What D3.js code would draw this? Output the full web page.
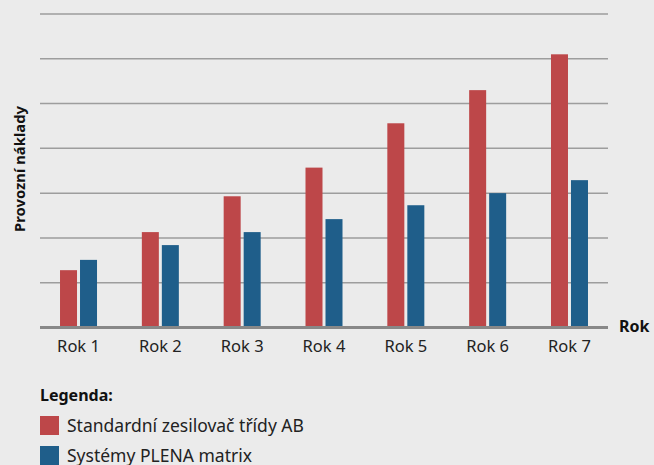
<!DOCTYPE html>
<html>
<head>
<meta charset="utf-8">
<script src="https://cdn.jsdelivr.net/npm/d3@7"></script>
<style>
  body { margin: 0; background: #ebebeb; }
  svg { display: block; font-family: "Noto Sans", "Open Sans", sans-serif; }
</style>
</head>
<body>
<svg id="chart" width="654" height="465"></svg>
<script>
const years = ["Rok 1", "Rok 2", "Rok 3", "Rok 4", "Rok 5", "Rok 6", "Rok 7"];
const standardAB = [1.28, 2.13, 2.93, 3.57, 4.56, 5.30, 6.10];
const plenaMatrix = [1.51, 1.84, 2.13, 2.42, 2.73, 3.00, 3.29];
const seriesNames = ["Standardní zesilovač třídy AB", "Systémy PLENA matrix"];
const colors = ["#bd4749", "#1f5e8a"];

const svg = d3.select("#chart");
const gridLeft = 40, gridRight = 608;
const plotTop = 14, plotBottom = 327.5;

const x = d3.scaleBand().domain(years).range([37.6, 610.4]);
const y = d3.scaleLinear().domain([0, 7]).range([plotBottom, plotTop]);
const barW = 17, gap = 3;

// gridlines
svg.append("g").selectAll("line")
  .data(d3.range(1, 8))
  .join("line")
    .attr("x1", gridLeft).attr("x2", gridRight)
    .attr("y1", d => y(d)).attr("y2", d => y(d))
    .attr("stroke", "#9d9d9d")
    .attr("stroke-width", 1.5);

const groups = svg.append("g").selectAll("g")
  .data(years)
  .join("g")
    .attr("transform", d => `translate(${x(d) + x.bandwidth() / 2},0)`);

groups.append("rect")
  .attr("x", -barW - gap / 2)
  .attr("y", (d, i) => y(standardAB[i]))
  .attr("width", barW)
  .attr("height", (d, i) => plotBottom - y(standardAB[i]))
  .attr("fill", colors[0]);

groups.append("rect")
  .attr("x", gap / 2)
  .attr("y", (d, i) => y(plenaMatrix[i]))
  .attr("width", barW)
  .attr("height", (d, i) => plotBottom - y(plenaMatrix[i]))
  .attr("fill", colors[1]);

// baseline
svg.append("line")
  .attr("x1", gridLeft).attr("x2", gridRight)
  .attr("y1", plotBottom).attr("y2", plotBottom)
  .attr("stroke", "#888").attr("stroke-width", 3);

// x labels
const xAxis = svg.append("g")
  .attr("transform", `translate(0,${plotBottom})`)
  .call(d3.axisBottom(x).tickSize(0).tickPadding(8));
xAxis.select(".domain").remove();
xAxis.attr("font-family", null).attr("font-size", null);
xAxis.selectAll("text")
  .style("font-size", "16.5px")
  .attr("dy", null)
  .attr("y", 24)
  .attr("fill", "#222");

svg.append("text")
  .attr("x", 619).attr("y", 332)
  .style("font-size", "16px").attr("font-weight", "bold").attr("fill", "#111")
  .text("Rok");

svg.append("text")
  .attr("transform", "rotate(-90)")
  .attr("x", -169).attr("y", 25)
  .attr("text-anchor", "middle")
  .style("font-size", "14.8px").attr("font-weight", "bold").attr("fill", "#111")
  .text("Provozní náklady");

// legend
const legend = svg.append("g").attr("transform", "translate(40,0)");
legend.append("text")
  .attr("x", 0).attr("y", 401)
  .style("font-size", "16px").attr("font-weight", "bold").attr("fill", "#111")
  .text("Legenda:");

seriesNames.forEach((name, i) => {
  const row = legend.append("g").attr("transform", `translate(0,${416 + i * 30})`);
  row.append("rect").attr("width", 19).attr("height", 19).attr("fill", colors[i]);
  row.append("text")
    .attr("x", 27).attr("y", 16)
    .style("font-size", "17.5px").attr("fill", "#222")
    .text(name);
});
</script>
</body>
</html>
